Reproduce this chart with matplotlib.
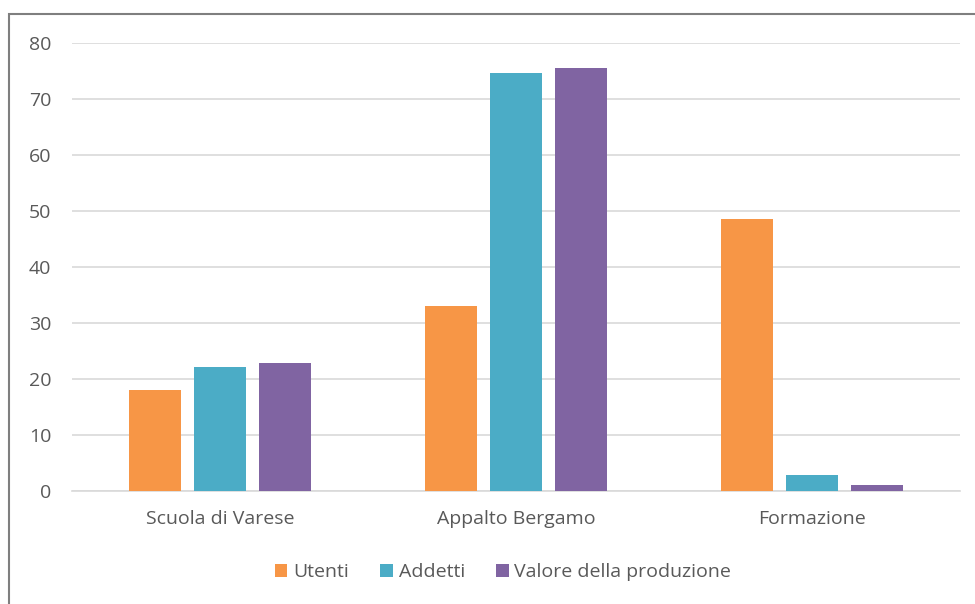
import numpy as np
from matplotlib import pyplot as plt
from matplotlib.patches import Rectangle

# data
categories = ['Scuola di Varese', 'Appalto Bergamo', 'Formazione']
utenti = [18.0, 33.0, 48.6]
addetti = [22.1, 74.6, 2.8]
valore = [22.9, 75.5, 1.1]
series_names = ['Utenti', 'Addetti', 'Valore della produzione']
colors = ['#F79646', '#4BACC6', '#8064A2']

plt.rcParams['font.family'] = ['Open Sans', 'DejaVu Sans']

fig = plt.figure(figsize=(9.75, 6.04), dpi=100)
ax = fig.add_axes([72/975, 1-491/604, 888/975, 448/604])

# outer chart frame
fig.patches.append(Rectangle((9/975, -0.1), 1.2, 1-14/604+0.1, transform=fig.transFigure,
                             fill=False, edgecolor='#7f7f7f', linewidth=1.5))

x = np.arange(len(categories))
w = 0.176
step = 0.22
for i, (vals, name, c) in enumerate(zip([utenti, addetti, valore], series_names, colors)):
    ax.bar(x + (i-1)*step, vals, width=w, color=c, label=name, zorder=3)

ax.set_xlim(-0.5, 2.5)
ax.set_ylim(0, 80)
ax.set_yticks(np.arange(0, 81, 10))
ax.set_xticks(x)
ax.set_xticklabels(categories)
ax.grid(axis='y', color='#d9d9d9', linewidth=1.2, zorder=0)
for s in ['top', 'right', 'left']:
    ax.spines[s].set_visible(False)
ax.spines['bottom'].set_color('#d9d9d9')
ax.spines['bottom'].set_linewidth(1.2)
ax.tick_params(axis='both', length=0, labelsize=14, labelcolor='#595959')
ax.tick_params(axis='y', pad=15)
ax.tick_params(axis='x', pad=14)

fig.legend(loc='center', bbox_to_anchor=(503/975, 1-572/604), ncol=3, frameon=False,
           fontsize=14, labelcolor='#595959', handlelength=0.65, handleheight=0.65,
           handletextpad=0.3, columnspacing=1.6)

plt.savefig('out.png', dpi=100)
